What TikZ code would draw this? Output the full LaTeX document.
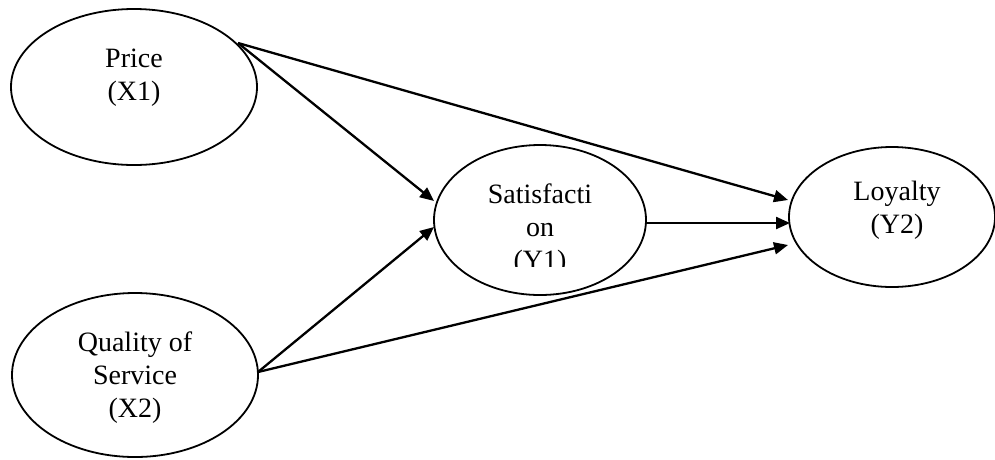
\documentclass[tikz,border=0pt]{standalone}
\usepackage{fontspec}
\setmainfont{Liberation Serif}
\usetikzlibrary{shapes.geometric,arrows.meta}
\begin{document}
\begin{tikzpicture}[x=1pt,y=-1pt,
  latent/.style={ellipse,draw,line width=1.8pt,inner sep=0pt,outer sep=0pt},
  lbl/.style={align=center,anchor=base,inner sep=0pt,font=\fontsize{28}{33}\selectfont},
  path/.style={line width=2.3pt,-{Triangle[length=14pt,width=12pt]}}]
\useasboundingbox (0,0) rectangle (995,459);
\node[latent,minimum width=246pt,minimum height=156pt] (price) at (134,87) {};
\node[latent,minimum width=246pt,minimum height=164pt] (qual) at (135,375) {};
\node[latent,minimum width=212pt,minimum height=150pt] (sat) at (540,220) {};
\node[latent,minimum width=206pt,minimum height=140pt] (loy) at (892,217) {};
\node[lbl] (priceT) at (134,100) {Price\\(X1)};
\node[lbl] (qualT) at (135,417) {Quality of\\Service\\(X2)};
\node[lbl] (loyT) at (897,233) {Loyalty\\(Y2)};
\begin{scope}
\clip (430,140) rectangle (650,266);
\node[lbl] (satT) at (540,269) {Satisfacti\\on\\(Y1)};
\end{scope}
\coordinate (pS) at (238,43);
\coordinate (qS) at (258,372);
\coordinate (sIn1) at (434,201);
\coordinate (sIn2) at (434,227);
\coordinate (lIn1) at (788,200);
\coordinate (lIn2) at (790,223);
\coordinate (lIn3) at (788,245);
\coordinate (sOut) at (645,223);
\draw[path] (pS) -- (sIn1);
\draw[path] (pS) -- (lIn1);
\draw[path] (qS) -- (sIn2);
\draw[path] (qS) -- (lIn3);
\draw[path] (sOut) -- (lIn2);
\end{tikzpicture}
\end{document}
